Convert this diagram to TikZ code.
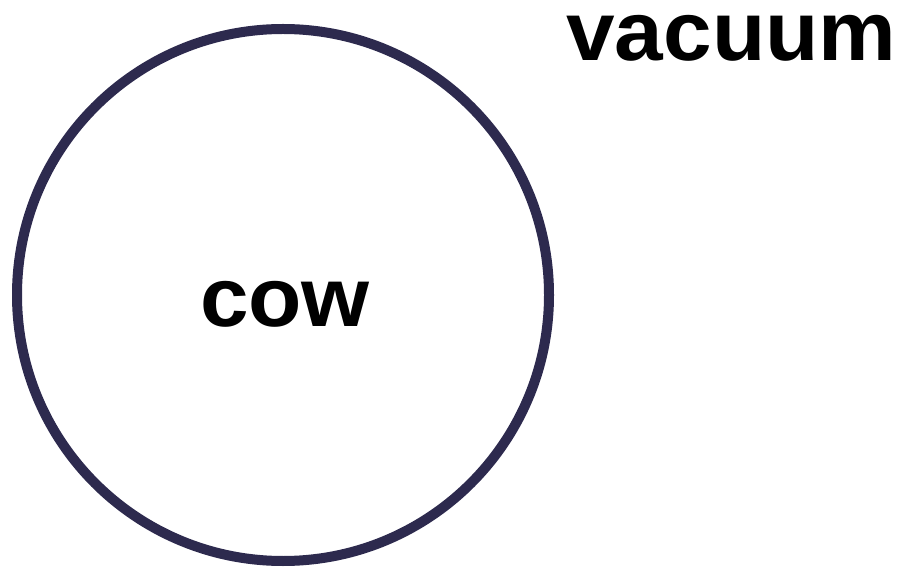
\documentclass[tikz,border=0pt]{standalone}
\usepackage{fontspec}
\setmainfont{Liberation Sans}[FakeStretch=1.04]
\definecolor{ring}{HTML}{2D2A4E}
\begin{document}
\begin{tikzpicture}[x=1pt,y=-1pt,
  label text/.style={inner sep=0pt,anchor=base,font=\fontsize{84}{84}\selectfont\bfseries}]
\useasboundingbox (0,0) rectangle (900,569);
\node[draw=ring,line width=10pt,circle,minimum size=532pt,inner sep=0pt] (cow) at (283,295) {};
\node[label text] (cowtext) at (285,327) {cow};
\node[label text] (vac) at (731.5,61) {vacuum};
\end{tikzpicture}
\end{document}
